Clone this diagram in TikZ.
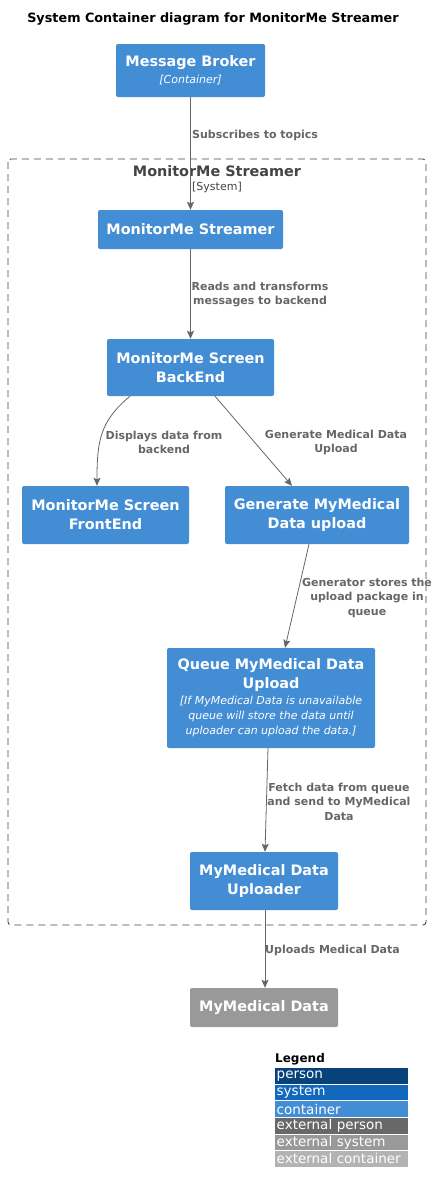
\documentclass[tikz,border=0pt]{standalone}
\usepackage{fontspec}
\setmainfont{DejaVu Sans}
\usetikzlibrary{arrows.meta}

\definecolor{personblue}{HTML}{08427B}
\definecolor{systemblue}{HTML}{1168BD}
\definecolor{containerblue}{HTML}{438DD5}
\definecolor{extperson}{HTML}{686868}
\definecolor{extsystem}{HTML}{999999}
\definecolor{extcontainer}{HTML}{B3B3B3}
\definecolor{relgray}{HTML}{666666}
\definecolor{boundarygray}{HTML}{444444}

\newcommand\techfont{\mdseries\itshape\fontsize{11}{14.5}\selectfont}

\begin{document}
\begin{tikzpicture}[x=1pt,y=-1pt,
  box/.style={fill=containerblue, rounded corners=2pt, text=white, align=center,
    inner sep=0pt, font=\bfseries\fontsize{14.4}{19}\selectfont},
  extbox/.style={box, fill=extsystem},
  rel/.style={draw=relgray, line width=0.8pt, -{Stealth[length=8pt,width=7pt,inset=1.5pt]}},
  rellabel/.style={text=relgray, align=center, inner sep=0pt,
    font=\bfseries\fontsize{11}{14.5}\selectfont}]
  \useasboundingbox (0,0) rectangle (438,1192);

  % Title
  \node[font=\bfseries\fontsize{12.8}{15}\selectfont] (title) at (213,19)
    {System Container diagram for MonitorMe Streamer};

  % System boundary
  \draw[boundarygray, line width=0.9pt, dash pattern=on 7pt off 5pt, rounded corners=3pt]
    (8,159) rectangle (426,925);
  \node[text=boundarygray, font=\bfseries\fontsize{14.4}{17}\selectfont, inner sep=0pt]
    (systitle) at (217,171) {MonitorMe Streamer};
  \node[text=boundarygray, font=\fontsize{11}{13}\selectfont, inner sep=0pt]
    (systype) at (217,187) {[System]};

  % Containers
  \node[box, minimum width=149pt, minimum height=53pt] (broker) at (190.5,70.5)
    {Message Broker\\[-2pt]{\techfont [Container]}};
  \node[box, minimum width=185pt, minimum height=39pt] (streamer) at (190.5,229.5)
    {MonitorMe Streamer};
  \node[box, minimum width=167pt, minimum height=57pt] (backend) at (190.5,367.5)
    {MonitorMe Screen\\BackEnd};
  \node[box, minimum width=167pt, minimum height=58pt] (frontend) at (105.5,515)
    {MonitorMe Screen\\FrontEnd};
  \node[box, minimum width=184pt, minimum height=58pt] (generate) at (317,515)
    {Generate MyMedical\\Data upload};
  \node[box, minimum width=208pt, minimum height=100pt] (queue) at (271,698)
    {Queue MyMedical Data\\Upload\\[-3pt]
     {\techfont [If MyMedical Data is unavailable}\\[-4pt]
     {\techfont queue will store the data until}\\[-4pt]
     {\techfont uploader can upload the data.]}};
  \node[box, minimum width=148pt, minimum height=58pt] (uploader) at (264,881)
    {MyMedical Data\\Uploader};
  \node[extbox, minimum width=148pt, minimum height=39pt] (mymedical) at (264,1007.5)
    {MyMedical Data};

  % Relationships
  \draw[rel] (broker) -- (streamer);
  \draw[rel] (streamer) -- (backend);
  \draw[rel] ([xshift=-60.5pt]backend.south) .. controls +(-30,25) and +(0,-45) ..
    ([xshift=-8.5pt]frontend.north);
  \draw[rel] ([xshift=24.5pt]backend.south) -- ([xshift=-25pt]generate.north);
  \draw[rel] ([xshift=-8pt]generate.south) -- ([xshift=14pt]queue.north);
  \draw[rel] ([xshift=-3pt]queue.south) -- ([xshift=1pt]uploader.north);
  \draw[rel] ([xshift=1pt]uploader.south) -- ([xshift=1pt]mymedical.north);

  % Relationship labels
  \node[rellabel, anchor=west] (lblsub) at (192,135) {Subscribes to topics};
  \node[rellabel] (lblreads) at (260,294.5) {Reads and transforms\\messages to backend};
  \node[rellabel] (lbldisplay) at (164,442.5) {Displays data from\\backend};
  \node[rellabel] (lblgenerate) at (336,442.5) {Generate Medical Data\\Upload};
  \node[rellabel] (lblstores) at (367,597.5) {Generator stores the\\upload package in\\queue};
  \node[rellabel] (lblfetch) at (339,801.5) {Fetch data from queue\\and send to MyMedical\\Data};
  \node[rellabel, anchor=west] (lblupload) at (265,950) {Uploads Medical Data};

  % Legend
  \node[font=\bfseries\fontsize{12}{14}\selectfont, anchor=west, inner sep=0pt]
    (legend) at (275,1059) {Legend};
  \foreach \i/\col/\txt in {0/personblue/person, 1/systemblue/system,
      2/containerblue/container, 3/extperson/external person,
      4/extsystem/external system, 5/extcontainer/external container}
    \node[fill=\col, text=white, anchor=north west, text width=130pt, align=left,
      minimum height=15.5pt, inner xsep=1.5pt, inner ysep=0pt,
      font=\fontsize{13.5}{15}\selectfont] (leg\i) at (275,1068+16.6*\i) {\txt};
\end{tikzpicture}
\end{document}
